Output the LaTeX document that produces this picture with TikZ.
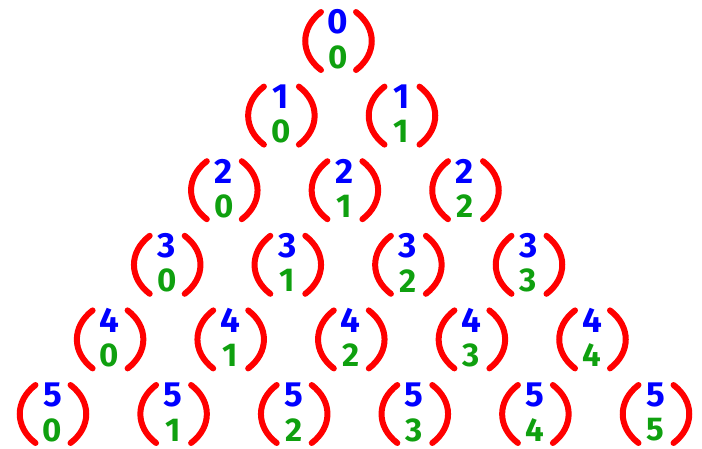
\documentclass[tikz,border=0pt]{standalone}
\usepackage{fontspec}
\setmainfont{Fira Sans}
\definecolor{pred}{RGB}{255,0,0}
\definecolor{pblue}{RGB}{0,0,255}
\definecolor{pgreen}{RGB}{15,160,15}
\begin{document}
\begin{tikzpicture}[x=1pt,y=-1pt,
  paren/.style={draw=pred,line width=6pt,line cap=round},
  upper/.style={text=pblue,font=\fontsize{35}{35}\selectfont\bfseries,inner sep=0pt},
  lower/.style={text=pgreen,font=\fontsize{33}{33}\selectfont\bfseries,inner sep=0pt}]
\useasboundingbox (0,0) rectangle (702,448);
\foreach \n in {0,...,5}{
  \foreach \k in {0,...,\n}{
    \pgfmathsetmacro{\cx}{338+3.2*\n+(\k-\n/2)*120.6}
    \pgfmathsetmacro{\cy}{41+74.6*\n}
    \node[upper] (t\n\k) at (\cx,\cy-19) {\n};
    \node[lower] (b\n\k) at (\cx,\cy+16) {\k};
    \draw[paren] (\cx-17,\cy-29) .. controls (\cx-38,\cy-13) and (\cx-38,\cy+13) .. (\cx-17,\cy+29);
    \draw[paren] (\cx+18,\cy-29) .. controls (\cx+39,\cy-13) and (\cx+39,\cy+13) .. (\cx+18,\cy+29);
  }
}
\end{tikzpicture}
\end{document}
